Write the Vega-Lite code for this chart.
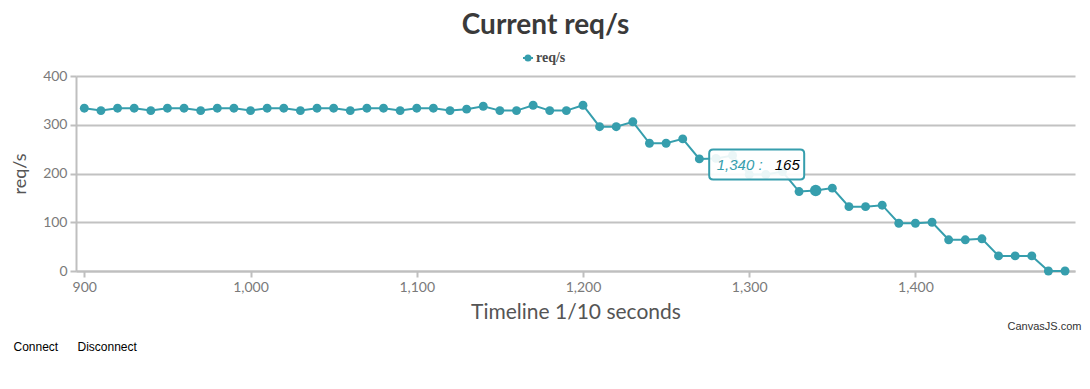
{
  "$schema": "https://vega.github.io/schema/vega-lite/v6.json",
  "width": 999,
  "height": 195,
  "autosize": {"type": "none"},
  "padding": {"left": 76, "top": 76, "right": 15, "bottom": 118},
  "background": "white",
  "title": {
    "text": "Current req/s",
    "font": "Lato",
    "fontSize": 28,
    "fontWeight": "bold",
    "color": "#3A3A3A",
    "anchor": "middle",
    "dx": -30,
    "offset": 11
  },
  "data": {
    "values": [
      {"t": 900, "v": 334, "series": "req/s"},
      {"t": 910, "v": 329, "series": "req/s"},
      {"t": 920, "v": 334, "series": "req/s"},
      {"t": 930, "v": 334, "series": "req/s"},
      {"t": 940, "v": 329, "series": "req/s"},
      {"t": 950, "v": 334, "series": "req/s"},
      {"t": 960, "v": 334, "series": "req/s"},
      {"t": 970, "v": 329, "series": "req/s"},
      {"t": 980, "v": 334, "series": "req/s"},
      {"t": 990, "v": 334, "series": "req/s"},
      {"t": 1000, "v": 329, "series": "req/s"},
      {"t": 1010, "v": 334, "series": "req/s"},
      {"t": 1020, "v": 334, "series": "req/s"},
      {"t": 1030, "v": 329, "series": "req/s"},
      {"t": 1040, "v": 334, "series": "req/s"},
      {"t": 1050, "v": 334, "series": "req/s"},
      {"t": 1060, "v": 329, "series": "req/s"},
      {"t": 1070, "v": 334, "series": "req/s"},
      {"t": 1080, "v": 334, "series": "req/s"},
      {"t": 1090, "v": 329, "series": "req/s"},
      {"t": 1100, "v": 334, "series": "req/s"},
      {"t": 1110, "v": 334, "series": "req/s"},
      {"t": 1120, "v": 329, "series": "req/s"},
      {"t": 1130, "v": 332, "series": "req/s"},
      {"t": 1140, "v": 338, "series": "req/s"},
      {"t": 1150, "v": 329, "series": "req/s"},
      {"t": 1160, "v": 329, "series": "req/s"},
      {"t": 1170, "v": 340, "series": "req/s"},
      {"t": 1180, "v": 329, "series": "req/s"},
      {"t": 1190, "v": 329, "series": "req/s"},
      {"t": 1200, "v": 340, "series": "req/s"},
      {"t": 1210, "v": 296, "series": "req/s"},
      {"t": 1220, "v": 296, "series": "req/s"},
      {"t": 1230, "v": 306, "series": "req/s"},
      {"t": 1240, "v": 262, "series": "req/s"},
      {"t": 1250, "v": 262, "series": "req/s"},
      {"t": 1260, "v": 271, "series": "req/s"},
      {"t": 1270, "v": 230, "series": "req/s"},
      {"t": 1280, "v": 231, "series": "req/s"},
      {"t": 1290, "v": 237, "series": "req/s"},
      {"t": 1300, "v": 198, "series": "req/s"},
      {"t": 1310, "v": 198, "series": "req/s"},
      {"t": 1320, "v": 204, "series": "req/s"},
      {"t": 1330, "v": 163, "series": "req/s"},
      {"t": 1340, "v": 165, "series": "req/s"},
      {"t": 1350, "v": 170, "series": "req/s"},
      {"t": 1360, "v": 132, "series": "req/s"},
      {"t": 1370, "v": 132, "series": "req/s"},
      {"t": 1380, "v": 135, "series": "req/s"},
      {"t": 1390, "v": 98, "series": "req/s"},
      {"t": 1400, "v": 98, "series": "req/s"},
      {"t": 1410, "v": 100, "series": "req/s"},
      {"t": 1420, "v": 64, "series": "req/s"},
      {"t": 1430, "v": 64, "series": "req/s"},
      {"t": 1440, "v": 66, "series": "req/s"},
      {"t": 1450, "v": 31, "series": "req/s"},
      {"t": 1460, "v": 31, "series": "req/s"},
      {"t": 1470, "v": 31, "series": "req/s"},
      {"t": 1480, "v": 0, "series": "req/s"},
      {"t": 1490, "v": 0, "series": "req/s"}
    ]
  },
  "encoding": {
    "x": {
      "field": "t",
      "type": "quantitative",
      "scale": {"domain": [895, 1496], "nice": false, "zero": false},
      "axis": {
        "orient": "bottom",
        "title": "Timeline 1/10 seconds",
        "values": [900, 1000, 1100, 1200, 1300, 1400],
        "format": ",d",
        "grid": false,
        "titleFontSize": 21,
        "titlePadding": 7
      }
    },
    "y": {
      "field": "v",
      "type": "quantitative",
      "scale": {"domain": [0, 400], "nice": false},
      "axis": {
        "title": "req/s",
        "values": [0, 100, 200, 300, 400],
        "grid": true,
        "titleFontSize": 18,
        "titlePadding": 13
      }
    }
  },
  "resolve": {"axis": {"x": "independent", "y": "shared"}},
  "layer": [
    {
      "mark": {"type": "line", "strokeWidth": 2, "clip": false},
      "encoding": {
        "color": {
          "field": "series",
          "type": "nominal",
          "scale": {"range": ["#369EAD"]},
          "legend": {
            "title": null,
            "orient": "none",
            "legendX": 445,
            "legendY": -25,
            "symbolType": "M-1,0H1M-0.5,0A0.5,0.5 0 1,0 0.5,0A0.5,0.5 0 1,0 -0.5,0Z",
            "symbolSize": 100,
            "symbolStrokeWidth": 2,
            "symbolFillColor": "#369EAD",
            "symbolStrokeColor": "#369EAD",
            "labelFont": "Liberation Serif",
            "labelFontWeight": "bold",
            "labelFontSize": 14,
            "labelColor": "#4A4A4A",
            "labelOffset": 1
          }
        }
      }
    },
    {
      "mark": {"type": "point", "filled": true, "opacity": 1, "size": 80, "clip": false},
      "encoding": {
        "x": {"field": "t", "type": "quantitative", "scale": {"domain": [895, 1496], "nice": false, "zero": false}, "axis": null},
        "color": {"field": "series", "type": "nominal"}
      }
    },
    {
      "transform": [{"filter": "datum.t == 1340"}],
      "mark": {"type": "point", "filled": true, "opacity": 1, "size": 130, "color": "#369EAD"},
      "encoding": {
        "x": {
          "field": "t", "type": "quantitative",
          "scale": {"domain": [895, 1496], "nice": false, "zero": false},
          "axis": {
            "orient": "bottom",
            "title": "CanvasJS.com",
            "labels": false, "ticks": false, "domain": false, "grid": false,
            "titleFont": "Liberation Sans",
            "titleFontSize": 11,
            "titleColor": "#333333",
            "titleAlign": "right",
            "titleBaseline": "alphabetic",
            "titleX": 1005,
            "titleY": 58
          }
        }
      }
    },
    {
      "transform": [{"filter": "datum.t == 1340"}],
      "mark": {
        "type": "point",
        "shape": "M-0.916,-0.316H0.916Q1,-0.316 1,-0.232V0.232Q1,0.316 0.916,0.316H-0.916Q-1,0.316 -1,0.232V-0.232Q-1,-0.316 -0.916,-0.316Z",
        "size": 9025,
        "filled": true,
        "fill": "white",
        "fillOpacity": 0.9,
        "stroke": "#369EAD",
        "strokeWidth": 2,
        "opacity": 1,
        "xOffset": -59,
        "yOffset": -26
      },
      "encoding": {
        "x": {
          "field": "t", "type": "quantitative",
          "scale": {"domain": [895, 1496], "nice": false, "zero": false},
          "axis": {
            "orient": "bottom",
            "title": "Connect",
            "labels": false, "ticks": false, "domain": false, "grid": false,
            "titleFont": "Liberation Sans",
            "titleFontSize": 12,
            "titleColor": "#000000",
            "titleAlign": "left",
            "titleBaseline": "alphabetic",
            "titleX": -63,
            "titleY": 79
          }
        }
      }
    },
    {
      "transform": [{"filter": "datum.t == 1340"}],
      "mark": {
        "type": "text",
        "text": "1,340 :",
        "align": "left",
        "baseline": "middle",
        "dx": -99,
        "dy": -26,
        "font": "Liberation Sans",
        "fontSize": 15,
        "fontStyle": "italic",
        "color": "#369EAD"
      },
      "encoding": {
        "x": {
          "field": "t", "type": "quantitative",
          "scale": {"domain": [895, 1496], "nice": false, "zero": false},
          "axis": {
            "orient": "bottom",
            "title": "Disconnect",
            "labels": false, "ticks": false, "domain": false, "grid": false,
            "titleFont": "Liberation Sans",
            "titleFontSize": 12,
            "titleColor": "#000000",
            "titleAlign": "left",
            "titleBaseline": "alphabetic",
            "titleX": 1,
            "titleY": 79
          }
        }
      }
    },
    {
      "transform": [{"filter": "datum.t == 1340"}],
      "mark": {
        "type": "text",
        "align": "left",
        "baseline": "middle",
        "dx": -41,
        "dy": -26,
        "font": "Liberation Sans",
        "fontSize": 15,
        "fontStyle": "italic",
        "color": "#000000"
      },
      "encoding": {
        "x": {"field": "t", "type": "quantitative", "scale": {"domain": [895, 1496], "nice": false, "zero": false}, "axis": null},
        "text": {"field": "v", "type": "quantitative"}
      }
    }
  ],
  "config": {
    "view": {"stroke": null},
    "font": "Lato",
    "axis": {
      "labelFont": "Lato",
      "labelFontSize": 14,
      "labelColor": "#7A7A7A",
      "titleFont": "Lato",
      "titleFontWeight": "normal",
      "titleColor": "#555555",
      "domainColor": "#BFBFBF",
      "domainWidth": 2,
      "tickColor": "#BFBFBF",
      "tickWidth": 2,
      "tickSize": 6,
      "gridColor": "#C2C2C2",
      "gridWidth": 2,
      "labelPadding": 3
    }
  }
}
